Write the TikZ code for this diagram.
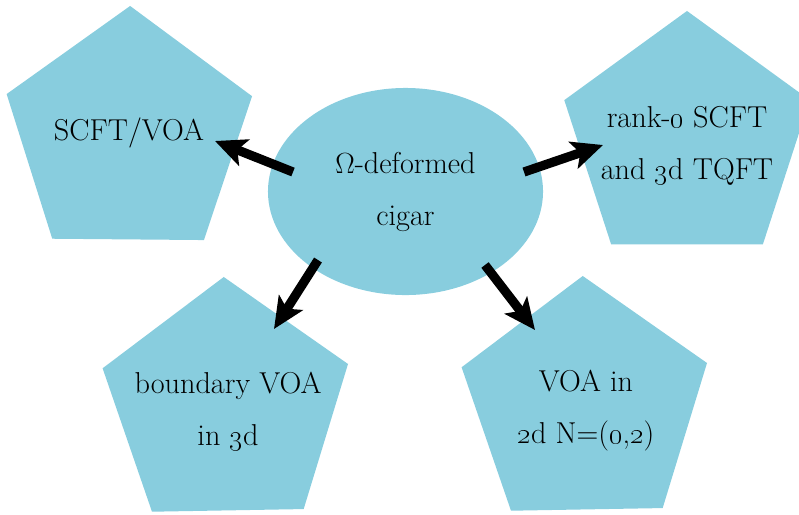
\documentclass[tikz,border=0pt]{standalone}
\usepackage{tikz}
\usetikzlibrary{shapes.geometric,arrows.meta,calc,scopes}
\definecolor{cigarblue}{RGB}{136,205,222}

\begin{document}
\begin{tikzpicture}[
      x=0.025cm,y=-0.025cm,
      penta/.style={regular polygon,regular polygon sides=5,fill=cigarblue,minimum size=6.45cm,inner sep=0pt,outer sep=0pt},
      cig/.style={ellipse,fill=cigarblue,minimum width=6.875cm,minimum height=5.175cm,inner sep=0pt,align=center,font=\fontsize{21.5}{37}\selectfont},
      txt/.style={align=center,font=\fontsize{21.5}{37}\selectfont},
      arr/.style={-{Stealth[length=0.78cm,width=0.7cm,inset=0.18cm]},line width=0.23cm}
]
      \useasboundingbox (0,0) rectangle (799,514);
      \clip (0,0) rectangle (799,514);
      \node[penta,shape border rotate=-0.5] at (129,135) (scft) {};
      \node[txt] at (129,133) (scft-t) {SCFT/VOA};
      \node[penta] at (687,140) (rank) {};
      \node[txt] at (687,146) (rank-t) {rank-\oldstylenums{0} SCFT\\and \oldstylenums{3}d TQFT};
      \node[penta,shape border rotate=1] at (226,406) (bvoa) {};
      \node[txt] at (228,412) (bvoa-t) {boundary VOA\\in \oldstylenums{3}d};
      \node[penta,shape border rotate=1] at (585,405) (voa2d) {};
      \node[txt] at (586,411) (voa2d-t) {VOA in\\\oldstylenums{2}d N=(\oldstylenums{0},\oldstylenums{2})};
      \node[cig] at (405.5,191.5) (cigar) {$\Omega$-deformed\\cigar};
      {[arr]
          \draw ($(cigar)+(-112.5,-19.5)$) -- ($(scft)+(86,6)$);
          \draw ($(cigar)+(118.5,-19.5)$) -- ($(rank)+(-84,5)$);
          \draw ($(cigar)+(-87.5,68.5)$) -- ($(bvoa)+(48,-77)$);
          \draw ($(cigar)+(79.5,73.5)$) -- ($(voa2d)+(-50,-75)$);
      }
\end{tikzpicture}
\end{document}
